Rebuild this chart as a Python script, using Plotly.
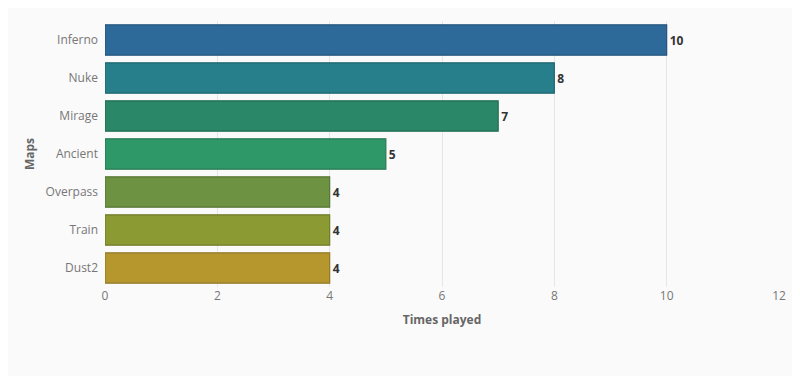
import plotly.graph_objects as go

maps = ["Inferno", "Nuke", "Mirage", "Ancient", "Overpass", "Train", "Dust2"]
times_played = [10, 8, 7, 5, 4, 4, 4]
bar_colors = ["#2e6a99", "#277f8c", "#2a8768", "#2f9868", "#6c9242", "#8c9a33", "#b6972e"]
edge_colors = ["#24557c", "#1f6670", "#216c53", "#267a53", "#567535", "#707b29", "#917925"]

fig = go.Figure(go.Bar(
    x=times_played,
    y=maps,
    orientation="h",
    marker=dict(color=bar_colors, line=dict(color=edge_colors, width=1.2)),
    text=[str(v) for v in times_played],
    textposition="outside",
    textfont=dict(family="Open Sans", size=12, color="#333333"),
    texttemplate="<b>%{text}</b>",
    cliponaxis=False,
))

fig.update_layout(
    width=800, height=376,
    margin=dict(l=97, r=29, t=13, b=97),
    paper_bgcolor="#fafafa",
    plot_bgcolor="#fafafa",
    bargap=0.2,
    showlegend=False,
    font=dict(family="Open Sans", size=12, color="#777777"),
    xaxis=dict(
        range=[0, 12], dtick=2, showgrid=True, gridcolor="#e6e6e6", gridwidth=1,
        zeroline=False, ticks="", tickfont=dict(size=12, color="#777777"),
        title=dict(text="<b>Times played</b>", font=dict(size=12, color="#666666"), standoff=12),
    ),
    yaxis=dict(
        categoryorder="array", categoryarray=maps[::-1], showgrid=False, zeroline=False,
        ticks="", ticklabelstandoff=6, tickfont=dict(size=12, color="#777777"),
        title=dict(text="<b>Maps</b>", font=dict(size=12, color="#666666"), standoff=8),
    ),
)

fig.write_html("out.html")
